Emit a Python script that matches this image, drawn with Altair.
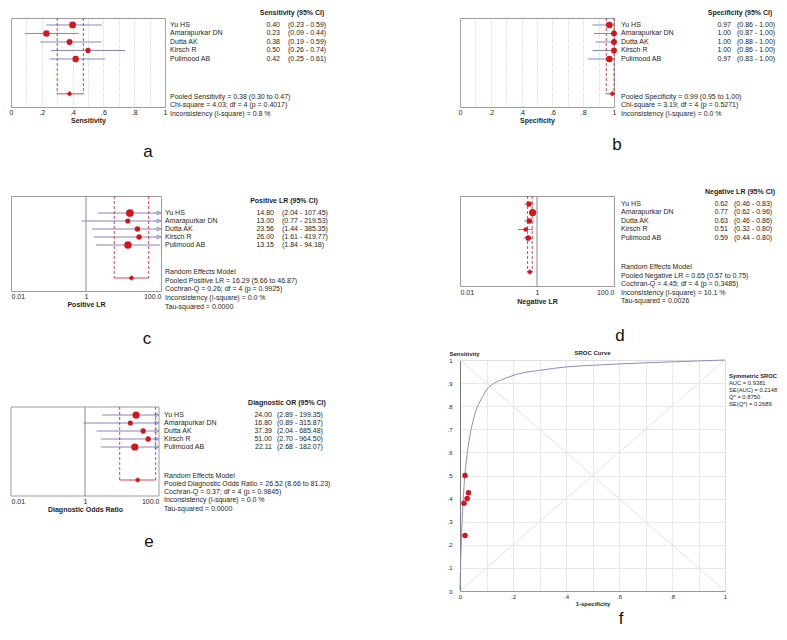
import altair as alt
import pandas as pd

# ---------------- data ----------------
studies = ["Yu HS", "Amarapurkar DN", "Dutta AK", "Kirsch R", "Pulimood AB"]

sens_est = [0.40, 0.23, 0.38, 0.50, 0.42]
sens_lo = [0.23, 0.09, 0.19, 0.26, 0.25]
sens_hi = [0.59, 0.44, 0.59, 0.74, 0.61]
sens_pooled = [0.38, 0.30, 0.47]

spec_est = [0.97, 1.00, 1.00, 1.00, 0.97]
spec_lo = [0.86, 0.87, 0.88, 0.86, 0.83]
spec_hi = [1.00, 1.00, 1.00, 1.00, 1.00]
spec_pooled = [0.99, 0.95, 1.00]

plr_est = [14.80, 13.00, 23.56, 26.00, 13.15]
plr_lo = [2.04, 0.77, 1.44, 1.61, 1.84]
plr_hi = [107.45, 219.53, 385.35, 419.77, 94.18]
plr_pooled = [16.29, 5.66, 46.87]

nlr_est = [0.62, 0.77, 0.63, 0.51, 0.59]
nlr_lo = [0.46, 0.62, 0.46, 0.32, 0.44]
nlr_hi = [0.83, 0.96, 0.86, 0.80, 0.80]
nlr_pooled = [0.65, 0.57, 0.75]

dor_est = [24.00, 16.80, 37.39, 51.00, 22.11]
dor_lo = [2.89, 0.89, 2.04, 2.70, 2.68]
dor_hi = [199.35, 315.87, 685.48, 964.50, 182.07]
dor_pooled = [26.52, 8.66, 81.23]

# SROC plot: study points and the fitted curve
sroc_fpr = [0.027, 0.019, 0.015, 0.019, 0.032]
sroc_sens = [0.40, 0.24, 0.38, 0.50, 0.425]
curve_fpr = [0.0, 0.003, 0.008, 0.015, 0.02, 0.03, 0.04, 0.05, 0.06, 0.08, 0.10,
             0.13, 0.17, 0.22, 0.30, 0.40, 0.50, 0.60, 0.70, 0.80, 0.90, 1.0]
curve_sens = [0.0, 0.15, 0.30, 0.45, 0.52, 0.62, 0.69, 0.74, 0.78, 0.83, 0.87,
              0.90, 0.92, 0.94, 0.955, 0.97, 0.977, 0.983, 0.988, 0.992, 0.996, 1.0]
diag_x = [0, 1, 0, 1]
diag_y = [0, 1, 1, 0]
diag_g = ["up", "up", "down", "down"]

stats_a = ["Pooled Sensitivity = 0.38 (0.30 to 0.47)",
           "Chi-square = 4.03; df =  4 (p = 0.4017)",
           "Inconsistency (I-square) = 0.8 %"]
stats_b = ["Pooled Specificity = 0.99 (0.95 to 1.00)",
           "Chi-square = 3.19; df =  4 (p = 0.5271)",
           "Inconsistency (I-square) = 0.0 %"]
stats_c = ["Random Effects Model",
           "Pooled Positive LR = 16.29 (5.66 to 46.87)",
           "Cochran-Q = 0.26; df =  4 (p = 0.9925)",
           "Inconsistency (I-square) = 0.0 %",
           "Tau-squared = 0.0000"]
stats_d = ["Random Effects Model",
           "Pooled Negative LR = 0.65 (0.57 to 0.75)",
           "Cochran-Q = 4.45; df =  4 (p = 0.3485)",
           "Inconsistency (I-square) = 10.1 %",
           "Tau-squared = 0.0026"]
stats_e = ["Random Effects Model",
           "Pooled Diagnostic Odds Ratio = 26.52 (8.66 to 81.23)",
           "Cochran-Q = 0.37; df =  4 (p = 0.9845)",
           "Inconsistency (I-square) = 0.0 %",
           "Tau-squared = 0.0000"]
sroc_legend = ["Symmetric SROC", "AUC = 0.9381", "SE(AUC) = 0.2148",
               "Q* = 0.8750", "SE(Q*) = 0.2689"]

# ---------------- styles ----------------
FONT = "Liberation Sans"
RED = "#d7141c"
CI_COL = "#8686c2"
FRAME = "#9c9c9c"
TXT = "#1e1e1e"
GRID_DOT = "#b8b8b8"

# marker areas (study weights as drawn)
size_a = [46, 42, 35, 28, 42]
size_b = [42, 35, 35, 35, 42]
size_c = [60, 26, 30, 30, 56]
size_d = [30, 52, 30, 22, 32]
size_e = [52, 26, 28, 28, 52]

TICKS01 = [round(i * 0.1, 1) for i in range(11)]
EVEN_LABELS = ("datum.value < 0.001 ? '0' : (datum.value > 0.999 ? '1' : "
               "((round(datum.value * 10) % 2 == 0) ? "
               "replace(format(datum.value, '.1f'), '0.', '.') : ''))")
ALL_LABELS = ("datum.value < 0.001 ? '0' : (datum.value > 0.999 ? '1' : "
              "replace(format(datum.value, '.1f'), '0.', '.'))")
LOG_LABELS = "datum.value < 0.1 ? '0.01' : (datum.value > 10 ? '100.0' : '1')"
ARROW = "M-2,-1L0,0L-2,1Z"


def fmt(v):
    return f"{v:.2f}"


def forest_panel(est, lo, hi, pooled, header, stats, axis_title, letter, log, sizes, L):
    ysc = alt.Scale(domain=L["ydom"], reverse=True, nice=False, zero=False)
    Y = alt.Y("row:Q", scale=ysc, axis=None)
    common_axis = dict(ticks=False, domain=False, labelFontSize=7, labelPadding=L["lp"],
                       labelColor=TXT, labelOverlap=False, title=axis_title,
                       titleFontSize=7, titleFontWeight="bold", titlePadding=L["tp"],
                       titleColor=TXT)
    if log:
        xsc = alt.Scale(type="log", domain=[0.01, 100], clamp=True, nice=False)
        xaxis = alt.Axis(values=[0.01, 1, 100], labelExpr=LOG_LABELS, labelFlush=True,
                         grid=False, **common_axis)
    else:
        xsc = alt.Scale(domain=[0, 1], nice=False, zero=False, clamp=True)
        xaxis = alt.Axis(values=TICKS01, labelExpr=EVEN_LABELS, labelFlush=False,
                         grid=True, gridDash=[1, 2], gridColor=GRID_DOT, gridWidth=0.8,
                         **common_axis)

    def X(field):
        return alt.X(field, scale=xsc, axis=xaxis)

    sdf = pd.DataFrame({
        "study": studies, "est": est, "lo": lo, "hi": hi,
        "row": [1, 2, 3, 4, 5], "size": sizes,
        "val": [fmt(v) for v in est],
        "ci": [f"({fmt(a)} - {fmt(b)})" for a, b in zip(lo, hi)],
    })
    base = alt.Chart(sdf)
    layers = []

    r0, r1 = L["frame"]
    fdf = pd.DataFrame({"x0": [0.01 if log else 0.0], "x1": [100.0 if log else 1.0],
                        "y0": [r0], "y1": [r1], "one": [1.0]})
    fbase = alt.Chart(fdf)
    if L.get("own_frame"):
        layers.append(fbase.mark_rect(fill="transparent", stroke=FRAME, strokeWidth=1).encode(
            x=X("x0:Q"), x2="x1:Q", y=alt.Y("y0:Q", scale=ysc, axis=None), y2="y1:Q"))

    ci = base.mark_rule(color=CI_COL, strokeWidth=1).encode(x=X("lo:Q"), x2="hi:Q", y=Y)
    layers.append(ci)

    if log:
        layers.append(fbase.mark_rule(color="#8a8a8a", strokeWidth=1).encode(
            x=X("one:Q"), y=alt.Y("y0:Q", scale=ysc, axis=None), y2="y1:Q"))
        arrows = base.transform_filter("datum.hi > 100").mark_point(
            shape=ARROW, filled=False, color=CI_COL, size=16, strokeWidth=0.8,
            opacity=1).encode(x=X("hi:Q"), y=Y)
        layers.append(arrows)

    pdf = pd.DataFrame({"est": [pooled[0]], "lo": [pooled[1]], "hi": [pooled[2]],
                        "rtop": [r0], "rpool": [L["pool"]]})
    pbase = alt.Chart(pdf)
    for fld in ["lo", "hi"]:
        layers.append(pbase.mark_rule(color=RED, strokeDash=[3, 2], strokeWidth=0.8).encode(
            x=X(f"{fld}:Q"), y=alt.Y("rtop:Q", scale=ysc, axis=None), y2="rpool:Q"))
    layers.append(pbase.mark_rule(color=RED, strokeWidth=0.8).encode(
        x=X("lo:Q"), x2="hi:Q", y=alt.Y("rpool:Q", scale=ysc, axis=None)))

    pts = base.mark_circle(color=RED, opacity=1).encode(
        x=X("est:Q"), y=Y, size=alt.Size("size:Q", scale=None, legend=None))
    layers.append(pts)

    layers.append(pbase.mark_point(shape="diamond", filled=True, color=RED, size=30,
                                   opacity=1).encode(
        x=X("est:Q"), y=alt.Y("rpool:Q", scale=ysc, axis=None)))

    tstyle = dict(fontSize=7, color=TXT, baseline="middle")
    layers.append(base.mark_text(align="left", **tstyle).encode(
        x=alt.value(L["xn"]), y=Y, text="study:N"))
    layers.append(base.mark_text(align="right", **tstyle).encode(
        x=alt.value(L["xv"]), y=Y, text="val:N"))
    layers.append(base.mark_text(align="left", **tstyle).encode(
        x=alt.value(L["xc"]), y=Y, text="ci:N"))

    hdf = pd.DataFrame({"t": [header], "row": [L["hrow"]]})
    layers.append(alt.Chart(hdf).mark_text(align="center", fontWeight="bold", **tstyle).encode(
        x=alt.value(L["xh"]), y=Y, text="t:N"))

    stdf = pd.DataFrame({"t": stats, "row": L["srows"]})
    layers.append(alt.Chart(stdf).mark_text(align="left", **tstyle).encode(
        x=alt.value(L["xs"]), y=Y, text="t:N"))

    ldf = pd.DataFrame({"t": [letter]})
    layers.append(alt.Chart(ldf).mark_text(fontSize=17, color="#111", align="center",
                                           baseline="middle").encode(
        x=alt.value(L["letter"][0]), y=alt.value(L["letter"][1]), text="t:N"))

    props = dict(width=L["w"], height=L["h"])
    if L.get("own_frame"):
        props["view"] = alt.ViewBackground(stroke="transparent")
    return alt.layer(*layers).properties(**props)


F_W, F_H = 265, 231


def sroc_panel():
    xsc = alt.Scale(domain=[0, 1], nice=False, zero=False)
    ysc = alt.Scale(domain=[0, 1], nice=False, zero=False)
    xaxis = alt.Axis(values=TICKS01, labelExpr=EVEN_LABELS, grid=True, gridColor="#e2e2e2",
                     gridWidth=0.8, ticks=False, domain=True, domainColor="#9a9a9a",
                     labelFontSize=6, labelPadding=2, labelColor=TXT, labelOverlap=False,
                     labelFlush=False, title="1-specificity", titleFontSize=6,
                     titleFontWeight="bold", titlePadding=1, titleColor=TXT)
    yaxis = alt.Axis(values=TICKS01, labelExpr=ALL_LABELS, grid=True, gridColor="#e2e2e2",
                     gridWidth=0.8, ticks=False, domain=True, domainColor="#7a7a7a",
                     labelFontSize=6, labelPadding=8, labelColor=TXT, labelOverlap=False,
                     labelFlush=False, title="Sensitivity", titleAngle=0, titleX=-11,
                     titleY=-7, titleAlign="left", titleBaseline="middle", titleFontSize=6,
                     titleFontWeight="bold", titleColor=TXT)

    def X(f):
        return alt.X(f, scale=xsc, axis=xaxis)

    def Yf(f):
        return alt.Y(f, scale=ysc, axis=yaxis)

    ddf = pd.DataFrame({"x": diag_x, "y": diag_y, "g": diag_g})
    diag = alt.Chart(ddf).mark_line(color="#e3e3e3", strokeWidth=1).encode(
        x=X("x:Q"), y=Yf("y:Q"), detail="g:N")
    cdf = pd.DataFrame({"fpr": curve_fpr, "sens": curve_sens})
    curve = alt.Chart(cdf).mark_line(color="#8b8bc3", strokeWidth=1,
                                     interpolate="monotone").encode(
        x=X("fpr:Q"), y=Yf("sens:Q"), order="fpr:Q")
    pdf = pd.DataFrame({"fpr": sroc_fpr, "sens": sroc_sens})
    pts = alt.Chart(pdf).mark_circle(color=RED, size=30, opacity=1).encode(
        x=X("fpr:Q"), y=Yf("sens:Q"))
    ttl = alt.Chart(pd.DataFrame({"t": ["SROC Curve"]})).mark_text(
        fontSize=6, fontWeight="bold", color=TXT, align="center", baseline="middle").encode(
        x=alt.value(F_W / 2), y=alt.value(-7), text="t:N")
    leg_df = pd.DataFrame({"t": sroc_legend, "k": list(range(len(sroc_legend)))})
    leg_y = [16, 23, 30, 37, 44]
    leg_layers = []
    for k, t in enumerate(sroc_legend):
        leg_layers.append(alt.Chart(leg_df).transform_filter(f"datum.k == {k}").mark_text(
            fontSize=5.8, fontWeight="bold" if k == 0 else "normal", color=TXT,
            align="left", baseline="middle").encode(
            x=alt.value(F_W + 4), y=alt.value(leg_y[k]), text="t:N"))
    letter = alt.Chart(pd.DataFrame({"t": ["f"]})).mark_text(
        fontSize=17, color="#111", align="center", baseline="middle").encode(
        x=alt.value(161), y=alt.value(F_H + 28), text="t:N")
    return alt.layer(diag, curve, pts, ttl, *leg_layers, letter).properties(
        width=F_W, height=F_H, view=alt.ViewBackground(stroke="#cfcfcf"))


def spacer(w, h):
    return alt.Chart(pd.DataFrame({"s": [0]})).mark_point(opacity=0, size=1).encode(
        x=alt.value(0), y=alt.value(0)).properties(
        width=w, height=h, view=alt.ViewBackground(stroke="transparent"))


LA = dict(w=154, h=89, ydom=[0.18, 10.65], frame=[0.18, 10.65], pool=9.1, hrow=-0.4,
          srows=[9.45, 10.4, 11.45], xn=159, xv=269, xc=277, xh=281, xs=159,
          letter=(137, 134), lp=1, tp=1)
LB = dict(w=154, h=89, ydom=[0.18, 10.65], frame=[0.18, 10.65], pool=9.1, hrow=-0.4,
          srows=[9.45, 10.4, 11.45], xn=161, xv=271, xc=277, xh=280, xs=161,
          letter=(157, 127), lp=1, tp=1)
LC = dict(w=150, h=95, ydom=[-1.125, 10.75], frame=[-1.125, 10.75], pool=9.125, hrow=-0.5,
          srows=[8.4, 9.5, 10.5, 11.6, 12.7], xn=154, xv=263, xc=271, xh=273, xs=154,
          letter=(136, 143), lp=1.5, tp=1)
LD = dict(w=154, h=90, ydom=[0.06, 10.65], frame=[0.06, 10.65], pool=9.0, hrow=-0.41,
          srows=[8.4, 9.45, 10.4, 11.5, 12.45], xn=161, xv=268, xc=274, xh=280, xs=161,
          letter=(160, 140), lp=2, tp=2)
# panel e sits 47px lower than the top of its grid row: its view is taller,
# and its frame is drawn over its own rows only
LE = dict(w=148, h=136, ydom=[-5.875, 11.125], frame=[0.0, 11.125], own_frame=True,
          pool=9.125, hrow=-0.5,
          srows=[8.6, 9.6, 10.6, 11.6, 12.75], xn=153, xv=261, xc=266, xh=276, xs=153,
          letter=(138, 182), lp=1.5, tp=1)

pa = forest_panel(sens_est, sens_lo, sens_hi, sens_pooled, "Sensitivity (95% CI)",
                  stats_a, "Sensitivity", "a", False, size_a, LA)
pb = forest_panel(spec_est, spec_lo, spec_hi, spec_pooled, "Specificity (95% CI)",
                  stats_b, "Specificity", "b", False, size_b, LB)
pc = forest_panel(plr_est, plr_lo, plr_hi, plr_pooled, "Positive LR (95% CI)",
                  stats_c, "Positive LR", "c", True, size_c, LC)
pd_ = forest_panel(nlr_est, nlr_lo, nlr_hi, nlr_pooled, "Negative LR (95% CI)",
                   stats_d, "Negative LR", "d", True, size_d, LD)
pe = forest_panel(dor_est, dor_lo, dor_hi, dor_pooled, "Diagnostic OR (95% CI)",
                  stats_e, "Diagnostic Odds Ratio", "e", True, size_e, LE)
pf = sroc_panel()

GAP_W = 295
items = [
    pa, spacer(GAP_W, 1), pb,
    spacer(1, 89), spacer(1, 1), spacer(1, 89),
    pc, spacer(GAP_W, 1), pd_,
    spacer(1, 69), spacer(1, 1), spacer(1, 69),
    pe, spacer(GAP_W, 1), pf,
]

chart = alt.concat(*items, columns=3, spacing=0, bounds="flush", align="none").properties(
    padding=0
).configure(font=FONT).configure_view(stroke=FRAME, strokeWidth=1)

chart.save("out.html", embed_options={"renderer": "svg", "actions": False})
